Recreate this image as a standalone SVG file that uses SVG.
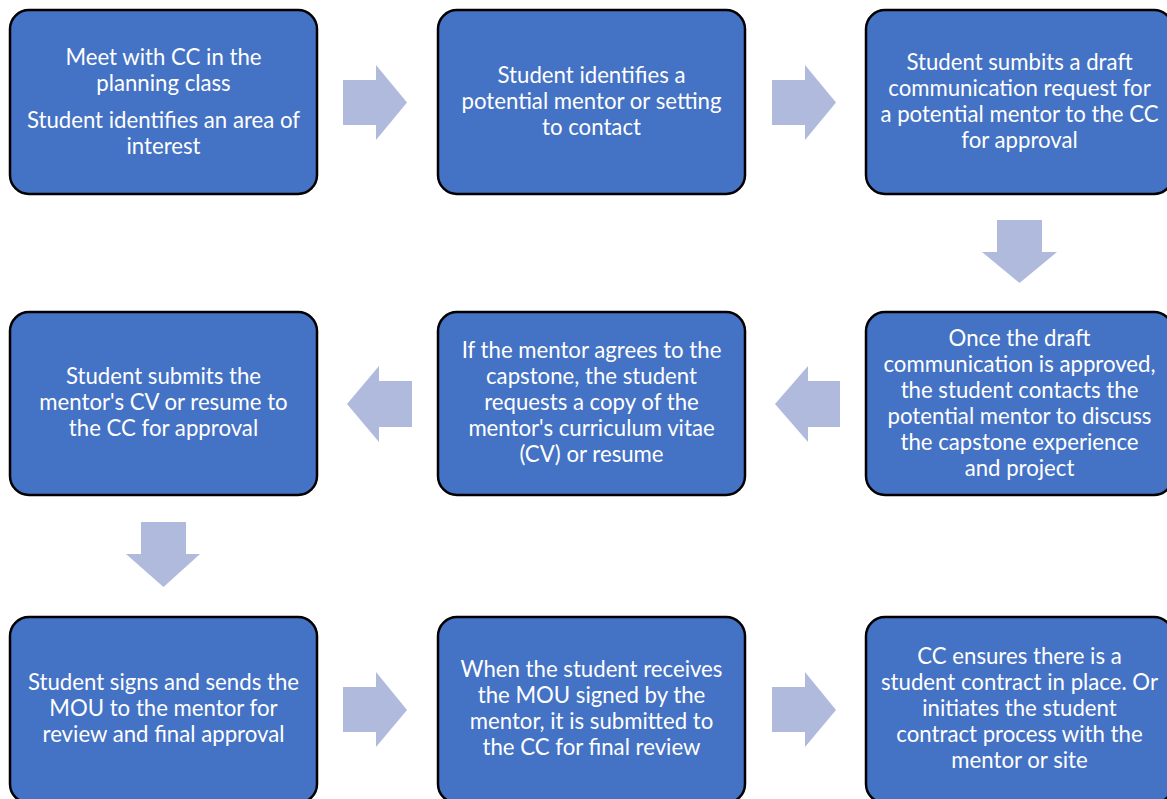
<svg xmlns="http://www.w3.org/2000/svg" width="1167" height="799" viewBox="0 0 1167 799">
<style>
.box{fill:#4472C4;stroke:#000;stroke-width:2.5}
.arr{fill:#AFBADD}
.t{font-family:Lato,"Open Sans","Liberation Sans",sans-serif;font-size:22.2px;fill:#fff;text-anchor:middle}
</style>
<rect width="1167" height="799" fill="#fff"/>
<g id="connectors">
<polygon class="arr" points="343,80 376,80 376,65 407,102.5 376,140 376,125 343,125"/>
<polygon class="arr" points="772,80 805,80 805,65 836,102.5 805,140 805,125 772,125"/>
<polygon class="arr" points="997,220 1042,220 1042,252 1057,252 1019.5,283 982,252 997,252"/>
<polygon class="arr" points="840,381 808,381 808,366 775,404 808,442 808,427 840,427"/>
<polygon class="arr" points="412,381 379,381 379,366 347,404 379,442 379,427 412,427"/>
<polygon class="arr" points="141,522 186,522 186,554 200,554 163.5,587 126,554 141,554"/>
<polygon class="arr" points="343,687 376,687 376,672 407,710 376,747 376,732 343,732"/>
<polygon class="arr" points="772,687 805,687 805,672 836,710 805,747 805,732 772,732"/>
</g>
<g id="n1"><rect class="box" x="10" y="10" width="307" height="184" rx="19"/>
<text class="t"><tspan x="163.5" y="65">Meet with CC in the</tspan><tspan x="163.5" y="91">planning class</tspan><tspan x="163.5" y="128">Student identifies an area of</tspan><tspan x="163.5" y="154">interest</tspan></text></g>
<g id="n2"><rect class="box" x="438" y="10" width="307" height="184" rx="19"/>
<text class="t"><tspan x="591.5" y="83">Student identifies a</tspan><tspan x="591.5" y="109">potential mentor or setting</tspan><tspan x="591.5" y="135">to contact</tspan></text></g>
<g id="n3"><rect class="box" x="866" y="10" width="307" height="184" rx="19"/>
<text class="t"><tspan x="1019.5" y="70">Student sumbits a draft</tspan><tspan x="1019.5" y="96">communication request for</tspan><tspan x="1019.5" y="122">a potential mentor to the CC</tspan><tspan x="1019.5" y="148">for approval</tspan></text></g>
<g id="n4"><rect class="box" x="866" y="312" width="307" height="183" rx="19"/>
<text class="t"><tspan x="1019.5" y="345.5">Once the draft</tspan><tspan x="1019.5" y="371.5">communication is approved,</tspan><tspan x="1019.5" y="397.5">the student contacts the</tspan><tspan x="1019.5" y="423.5">potential mentor to discuss</tspan><tspan x="1019.5" y="449.5">the capstone experience</tspan><tspan x="1019.5" y="475.5">and project</tspan></text></g>
<g id="n5"><rect class="box" x="438" y="312" width="307" height="183" rx="19"/>
<text class="t"><tspan x="591.5" y="358">If the mentor agrees to the</tspan><tspan x="591.5" y="384">capstone, the student</tspan><tspan x="591.5" y="410">requests a copy of the</tspan><tspan x="591.5" y="436">mentor's curriculum vitae</tspan><tspan x="591.5" y="462">(CV) or resume</tspan></text></g>
<g id="n6"><rect class="box" x="10" y="312" width="307" height="183" rx="19"/>
<text class="t"><tspan x="163.5" y="384">Student submits the</tspan><tspan x="163.5" y="410">mentor's CV or resume to</tspan><tspan x="163.5" y="436">the CC for approval</tspan></text></g>
<g id="n7"><rect class="box" x="10" y="617" width="307" height="186" rx="19"/>
<text class="t"><tspan x="163.5" y="690">Student signs and sends the</tspan><tspan x="163.5" y="716">MOU to the mentor for</tspan><tspan x="163.5" y="742">review and final approval</tspan></text></g>
<g id="n8"><rect class="box" x="438" y="617" width="307" height="186" rx="19"/>
<text class="t"><tspan x="591.5" y="677">When the student receives</tspan><tspan x="591.5" y="703">the MOU signed by the</tspan><tspan x="591.5" y="729">mentor, it is submitted to</tspan><tspan x="591.5" y="755">the CC for final review</tspan></text></g>
<g id="n9"><rect class="box" x="866" y="617" width="307" height="186" rx="19"/>
<text class="t"><tspan x="1019.5" y="664">CC ensures there is a</tspan><tspan x="1019.5" y="690">student contract in place. Or</tspan><tspan x="1019.5" y="716">initiates the student</tspan><tspan x="1019.5" y="742">contract process with the</tspan><tspan x="1019.5" y="768">mentor or site</tspan></text></g>
</svg>
